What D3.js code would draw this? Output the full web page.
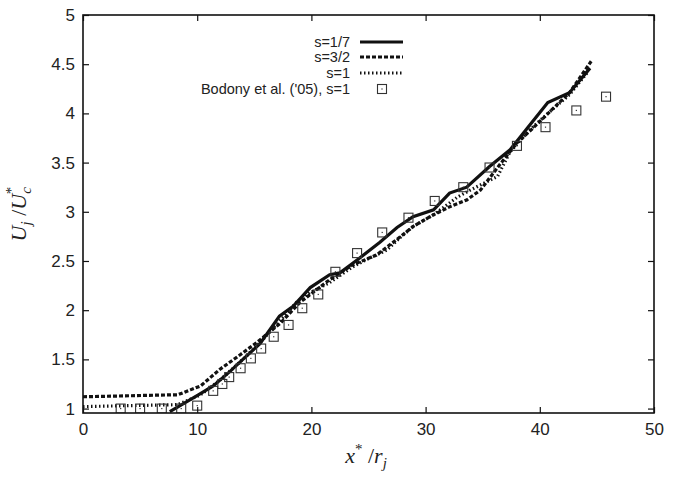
<!DOCTYPE html>
<html>
<head>
<meta charset="utf-8">
<script src="https://cdn.jsdelivr.net/npm/d3@7"></script>
<style>
  body { margin: 0; background: #fff; }
  svg text { font-family: "Liberation Sans", Arial, sans-serif; }
  .math { font-family: "Liberation Serif", "DejaVu Serif", serif; font-style: italic; }
</style>
</head>
<body>
<div id="chart"></div>
<script>
// data
const s17_x = [7.6, 8.5, 10.1, 11.4, 12.9, 14.0, 15.5, 17.2, 18.4, 19.9, 21.6, 22.5, 24.0, 26.0, 27.5, 28.9, 30.7, 32.1, 33.6, 35.6, 37.4, 38.9, 40.7, 42.6, 44.4];
const s17_y = [0.97, 1.03, 1.14, 1.23, 1.38, 1.50, 1.66, 1.94, 2.04, 2.23, 2.36, 2.38, 2.51, 2.69, 2.84, 2.95, 3.02, 3.19, 3.25, 3.46, 3.63, 3.85, 4.11, 4.21, 4.46];

const s32_x = [0, 8.0, 8.3, 9.4, 10.3, 12.0, 13.8, 15.2, 17.3, 19.0, 21.6, 23.6, 25.7, 27.5, 28.9, 30.7, 32.1, 33.6, 34.8, 36.5, 38.0, 39.4, 40.9, 42.6, 44.5];
const s32_y = [1.12, 1.14, 1.14, 1.19, 1.23, 1.40, 1.55, 1.67, 1.87, 2.08, 2.31, 2.46, 2.56, 2.72, 2.85, 2.97, 3.05, 3.12, 3.22, 3.48, 3.70, 3.85, 4.02, 4.21, 4.53];

const s1_x = [0, 8.3, 10.3, 12.0, 14.0, 15.5, 17.3, 18.7, 19.9, 21.6, 23.6, 25.1, 26.6, 27.8, 28.9, 30.7, 32.8, 33.9, 36.3, 37.4, 39.1, 40.9, 42.6, 44.2];
const s1_y = [1.02, 1.04, 1.14, 1.29, 1.50, 1.67, 1.90, 2.08, 2.18, 2.28, 2.44, 2.53, 2.61, 2.74, 2.85, 2.97, 3.15, 3.22, 3.36, 3.61, 3.83, 4.02, 4.19, 4.42];

const bod_x = [3.3, 5.0, 6.9, 8.6, 10.0, 11.4, 12.2, 12.8, 13.8, 14.7, 15.6, 16.7, 18.0, 19.2, 20.6, 22.1, 24.0, 26.2, 28.5, 30.8, 33.3, 35.6, 38.0, 40.5, 43.2, 45.8];
const bod_y = [1.0, 1.0, 1.0, 1.0, 1.03, 1.18, 1.25, 1.32, 1.41, 1.51, 1.61, 1.73, 1.85, 2.02, 2.16, 2.39, 2.58, 2.79, 2.94, 3.11, 3.25, 3.45, 3.67, 3.86, 4.03, 4.17];

const x_ticks = [0, 10, 20, 30, 40, 50];
const y_ticks = [1, 1.5, 2, 2.5, 3, 3.5, 4, 4.5, 5];
const legend_labels = ["s=1/7", "s=3/2", "s=1", "Bodony et al. ('05), s=1"];

const width = 681, height = 479;
const margin = { left: 83, right: 27, top: 15, bottom: 66 };
const y_min = 0.955, y_max = 5;

const svg = d3.select("#chart").append("svg")
    .attr("width", width)
    .attr("height", height);

const x = d3.scaleLinear().domain([0, 50]).range([margin.left, width - margin.right]);
const y = d3.scaleLinear().domain([y_min, y_max]).range([height - margin.bottom, margin.top]);

// clip to plot area
svg.append("clipPath").attr("id", "plotclip")
    .append("rect")
    .attr("x", margin.left).attr("y", margin.top)
    .attr("width", x(50) - x(0)).attr("height", y(y_min) - y(y_max));

const plot = svg.append("g").attr("clip-path", "url(#plotclip)");

const line = d3.line().x(d => x(d[0])).y(d => y(d[1]));

const series = [
    { xs: s17_x, ys: s17_y, dash: null },
    { xs: s32_x, ys: s32_y, dash: "4,2" },
    { xs: s1_x, ys: s1_y, dash: "1.5,2.5" }
];

series.forEach(s => {
    let pts = s.xs.map((v, i) => [v, s.ys[i]]);
    plot.append("path")
        .datum(pts)
        .attr("d", line)
        .attr("fill", "none")
        .attr("stroke", "#111")
        .attr("stroke-width", 3.2)
        .attr("stroke-dasharray", s.dash);
});

// Bodony markers
function drawMarker(g, cx, cy) {
    g.append("rect")
        .attr("x", cx - 4.5).attr("y", cy - 4.5)
        .attr("width", 9).attr("height", 9)
        .attr("fill", "none")
        .attr("stroke", "#333")
        .attr("stroke-width", 1.1);
    g.append("rect")
        .attr("x", cx - 0.6).attr("y", cy - 0.6)
        .attr("width", 1.2).attr("height", 1.2)
        .attr("fill", "#333");
}
bod_x.forEach((v, i) => drawMarker(plot, x(v), y(bod_y[i])));

// frame
svg.append("rect")
    .attr("x", x(0)).attr("y", y(y_max))
    .attr("width", x(50) - x(0)).attr("height", y(y_min) - y(y_max))
    .attr("fill", "none")
    .attr("stroke", "#111")
    .attr("stroke-width", 1.6);

// axes with inward ticks
const tickLen = 6;
const xAxisB = d3.axisBottom(x).tickValues(x_ticks).tickSize(-tickLen).tickPadding(10).tickFormat(d3.format("d"));
const xAxisT = d3.axisTop(x).tickValues(x_ticks).tickSize(-tickLen).tickFormat("");
const yAxisL = d3.axisLeft(y).tickValues(y_ticks).tickSize(-tickLen).tickPadding(8).tickFormat(d => d);
const yAxisR = d3.axisRight(y).tickValues(y_ticks).tickSize(-tickLen).tickFormat("");

function styleAxis(g) {
    g.select(".domain").remove();
    g.selectAll(".tick line").attr("stroke", "#111").attr("stroke-width", 1.2);
    g.selectAll(".tick text")
        .attr("fill", "#222")
        .style("font-size", "17px")
        .style("font-family", "'Liberation Sans', Arial, sans-serif");
}

svg.append("g").attr("transform", `translate(0,${y(y_min)})`).call(xAxisB).call(styleAxis);
svg.append("g").attr("transform", `translate(0,${y(y_max)})`).call(xAxisT).call(styleAxis);
svg.append("g").attr("transform", `translate(${x(0)},0)`).call(yAxisL).call(styleAxis);
svg.append("g").attr("transform", `translate(${x(50)},0)`).call(yAxisR).call(styleAxis);

// axis titles
const xt = svg.append("text")
    .attr("class", "math")
    .attr("x", 366).attr("y", 463)
    .attr("text-anchor", "middle")
    .style("font-size", "22px")
    .attr("fill", "#222");
xt.append("tspan").text("x");
xt.append("tspan").attr("dy", -9).style("font-size", "15px").style("font-style", "normal").text("*");
xt.append("tspan").attr("dy", 9).style("font-style", "normal").text(" /");
xt.append("tspan").text("r");
xt.append("tspan").attr("dy", 5).style("font-size", "15px").text("j");

const yt = svg.append("text")
    .attr("class", "math")
    .attr("transform", `translate(26,${(y(y_min) + y(y_max)) / 2}) rotate(-90)`)
    .attr("text-anchor", "middle")
    .style("font-size", "22px")
    .attr("fill", "#222");
yt.append("tspan").text("U");
yt.append("tspan").attr("dy", 5).style("font-size", "15px").text("j");
yt.append("tspan").attr("dy", -5).style("font-style", "normal").text(" /");
yt.append("tspan").text("U");
yt.append("tspan").attr("dy", 5).style("font-size", "15px").text("c");
yt.append("tspan").attr("dx", -7).attr("dy", -15).style("font-size", "15px").style("font-style", "normal").text("*");

// legend
const legend = svg.append("g");
const legY = [42, 57, 73, 89];
legend_labels.forEach((lab, i) => {
    legend.append("text")
        .attr("x", 350).attr("y", legY[i] + 5)
        .attr("text-anchor", "end")
        .style("font-size", "14.5px")
        .attr("fill", "#222")
        .text(lab);
    if (i < 3) {
        legend.append("line")
            .attr("x1", 360).attr("x2", 403)
            .attr("y1", legY[i]).attr("y2", legY[i])
            .attr("stroke", "#111")
            .attr("stroke-width", 3.2)
            .attr("stroke-dasharray", series[i].dash);
    } else {
        drawMarker(legend, 382, legY[i]);
    }
});
</script>
</body>
</html>
